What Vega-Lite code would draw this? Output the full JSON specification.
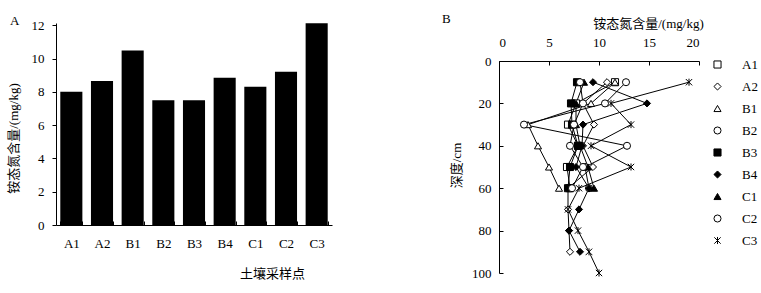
{
  "$schema": "https://vega.github.io/schema/vega-lite/v6.json",
  "padding": {"left": 7, "top": 13, "right": 0, "bottom": 0},
  "config": {
    "font": "Liberation Serif, Noto Sans CJK SC",
    "view": {"stroke": null},
    "axis": {"domainColor": "black", "tickColor": "black", "labelColor": "black", "titleColor": "black", "labelFont": "Liberation Serif, Noto Sans CJK SC", "titleFont": "Liberation Serif, Noto Sans CJK SC", "labelFontSize": 13, "titleFontSize": 13, "titleFontWeight": "normal", "grid": false, "domainWidth": 1, "tickWidth": 1},
    "title": {"fontWeight": "normal", "fontSize": 13, "font": "Liberation Serif", "anchor": "start", "color": "black"},
    "legend": {"labelFont": "Liberation Serif", "labelFontSize": 13, "labelColor": "black"},
    "concat": {"spacing": 110}
  },
  "resolve": {"legend": {"color": "independent", "shape": "independent", "fill": "independent"}, "scale": {"color": "independent", "shape": "independent", "fill": "independent"}},
  "datasets": {
    "bars": [
      {"site": "A1", "value": 8.02},
      {"site": "A2", "value": 8.66},
      {"site": "B1", "value": 10.5},
      {"site": "B2", "value": 7.5},
      {"site": "B3", "value": 7.5},
      {"site": "B4", "value": 8.86},
      {"site": "C1", "value": 8.32},
      {"site": "C2", "value": 9.22},
      {"site": "C3", "value": 12.14}
    ],
    "profile": [
      {"series": "A1", "depth": 10, "value": 11.6},
      {"series": "A1", "depth": 20, "value": 7.7},
      {"series": "A1", "depth": 30, "value": 6.9},
      {"series": "A1", "depth": 40, "value": 7.9},
      {"series": "A1", "depth": 50, "value": 6.8},
      {"series": "A1", "depth": 60, "value": 7.1},
      {"series": "A2", "depth": 10, "value": 10.8},
      {"series": "A2", "depth": 20, "value": 8.4},
      {"series": "A2", "depth": 30, "value": 9.5},
      {"series": "A2", "depth": 40, "value": 8.4},
      {"series": "A2", "depth": 50, "value": 9.4},
      {"series": "A2", "depth": 60, "value": 6.9},
      {"series": "A2", "depth": 70, "value": 6.9},
      {"series": "A2", "depth": 80, "value": 7.0},
      {"series": "A2", "depth": 90, "value": 7.1},
      {"series": "B1", "depth": 10, "value": 11.6},
      {"series": "B1", "depth": 20, "value": 9.2},
      {"series": "B1", "depth": 30, "value": 2.9},
      {"series": "B1", "depth": 40, "value": 3.9},
      {"series": "B1", "depth": 50, "value": 5.0},
      {"series": "B1", "depth": 60, "value": 6.0},
      {"series": "B2", "depth": 10, "value": 12.7},
      {"series": "B2", "depth": 20, "value": 10.6},
      {"series": "B2", "depth": 30, "value": 2.5},
      {"series": "B2", "depth": 40, "value": 12.8},
      {"series": "B2", "depth": 50, "value": 8.6},
      {"series": "B2", "depth": 60, "value": 9.0},
      {"series": "B3", "depth": 10, "value": 7.8},
      {"series": "B3", "depth": 20, "value": 7.2},
      {"series": "B3", "depth": 30, "value": 7.3},
      {"series": "B3", "depth": 40, "value": 7.9},
      {"series": "B3", "depth": 50, "value": 7.1},
      {"series": "B3", "depth": 60, "value": 6.9},
      {"series": "B4", "depth": 10, "value": 9.4},
      {"series": "B4", "depth": 20, "value": 14.8},
      {"series": "B4", "depth": 30, "value": 8.4},
      {"series": "B4", "depth": 40, "value": 8.3},
      {"series": "B4", "depth": 50, "value": 7.7},
      {"series": "B4", "depth": 60, "value": 9.0},
      {"series": "B4", "depth": 70, "value": 8.0},
      {"series": "B4", "depth": 80, "value": 7.0},
      {"series": "B4", "depth": 90, "value": 8.1},
      {"series": "C1", "depth": 10, "value": 8.5},
      {"series": "C1", "depth": 20, "value": 7.7},
      {"series": "C1", "depth": 30, "value": 7.7},
      {"series": "C1", "depth": 40, "value": 8.1},
      {"series": "C1", "depth": 50, "value": 8.9},
      {"series": "C1", "depth": 60, "value": 9.5},
      {"series": "C2", "depth": 10, "value": 8.1},
      {"series": "C2", "depth": 20, "value": 8.4},
      {"series": "C2", "depth": 30, "value": 7.5},
      {"series": "C2", "depth": 40, "value": 7.1},
      {"series": "C2", "depth": 50, "value": 8.4},
      {"series": "C2", "depth": 60, "value": 7.3},
      {"series": "C3", "depth": 10, "value": 19.0},
      {"series": "C3", "depth": 20, "value": 11.2},
      {"series": "C3", "depth": 30, "value": 13.2},
      {"series": "C3", "depth": 40, "value": 9.2},
      {"series": "C3", "depth": 50, "value": 13.2},
      {"series": "C3", "depth": 60, "value": 8.0},
      {"series": "C3", "depth": 70, "value": 6.9},
      {"series": "C3", "depth": 80, "value": 7.9},
      {"series": "C3", "depth": 90, "value": 9.0},
      {"series": "C3", "depth": 100, "value": 10.0}
    ]
  },
  "hconcat": [
    {
      "title": {"text": "A", "dy": 9, "dx": 3, "offset": 0},
      "width": 276,
      "height": 164,
      "data": {"name": "bars"},
      "mark": {"type": "bar", "color": "black"},
      "encoding": {
        "x": {
          "field": "site", "type": "nominal", "sort": null,
          "scale": {"paddingInner": 0.28, "paddingOuter": 0.14},
          "axis": {"title": "土壤采样点", "labelAngle": 0, "tickBand": "extent", "tickSize": -4, "labelPadding": 16, "labelBaseline": "top", "titleX": 216, "titleY": 42, "titleAlign": "center", "titleBaseline": "top", "titleFont": "Noto Sans CJK SC"}
        },
        "y": {
          "field": "value", "type": "quantitative",
          "scale": {"domain": [0, 12.15], "nice": false, "zero": true, "range": [164, -38]},
          "axis": {"values": [0, 2, 4, 6, 8, 10, 12], "title": "铵态氮含量/(mg/kg)", "tickSize": 4, "labelPadding": 8, "titleX": -43, "titleY": 77, "titleBaseline": "middle", "titleAlign": "center", "titleAngle": -90}
        }
      }
    },
    {
      "title": {"text": "B", "dy": 9, "dx": -8, "offset": 0},
      "width": 200,
      "height": 212,
      "data": {"name": "profile"},
      "layer": [
        {
          "mark": {"type": "line", "color": "black", "strokeWidth": 1},
          "encoding": {
            "x": {"field": "value", "type": "quantitative"},
            "y": {"field": "depth", "type": "quantitative"},
            "detail": {"field": "series"},
            "order": {"field": "depth", "type": "quantitative"}
          }
        },
        {
          "mark": {"type": "point", "strokeWidth": 1, "opacity": 1, "size": 50},
          "encoding": {
            "x": {
              "field": "value", "type": "quantitative",
              "scale": {"domain": [0, 20], "nice": false},
              "axis": {"orient": "top", "values": [0, 5, 10, 15, 20], "title": "铵态氮含量/(mg/kg)", "tickSize": -4, "labelPadding": 16, "titleX": 149, "titleY": -38, "titleAlign": "center", "titleBaseline": "middle"}
            },
            "y": {
              "field": "depth", "type": "quantitative",
              "scale": {"domain": [0, 100], "nice": false, "reverse": true},
              "axis": {"values": [0, 20, 40, 60, 80, 100], "title": "深度/cm", "tickSize": -4, "labelPadding": 12, "titleX": -43, "titleY": 104, "titleAlign": "center", "titleBaseline": "middle", "titleAngle": -90}
            },
            "color": {
              "field": "series", "type": "nominal",
              "scale": {
                "domain": ["A1", "A2", "B1", "B2", "B3", "B4", "C1", "C2", "C3"],
                "range": ["black", "black", "black", "black", "black", "black", "black", "black", "black"]
              },
              "legend": {
                "title": null, "orient": "none", "legendX": 212, "legendY": -3, "padding": 0,
                "symbolSize": 50, "symbolStrokeWidth": 1, "rowPadding": 8, "labelOffset": 18
              }
            },
            "shape": {
              "field": "series", "type": "nominal",
              "scale": {
                "domain": ["A1", "A2", "B1", "B2", "B3", "B4", "C1", "C2", "C3"],
                "range": ["square", "diamond", "triangle-up", "circle", "square", "diamond", "triangle-up", "circle", "M0,-1V1M-0.9,-0.9L0.9,0.9M-0.9,0.9L0.9,-0.9"]
              },
              "legend": null
            },
            "fill": {
              "field": "series", "type": "nominal",
              "scale": {
                "domain": ["A1", "A2", "B1", "B2", "B3", "B4", "C1", "C2", "C3"],
                "range": ["white", "white", "white", "white", "black", "black", "black", "white", "white"]
              },
              "legend": null
            }
          }
        }
      ]
    }
  ]
}
